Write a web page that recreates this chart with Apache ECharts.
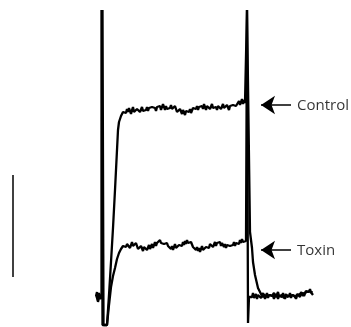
<!DOCTYPE html>
<html>
<head>
<meta charset="utf-8">
<script src="https://cdn.jsdelivr.net/npm/echarts@6/dist/echarts.min.js"></script>
<style>
html,body{margin:0;padding:0;background:#fff;}
#chart{width:351px;height:327px;}
</style>
</head>
<body>
<div id="chart"></div>
<script>
// Time (ms, stimulus onset = 0) and current (arbitrary units, baseline = 0)
const preTime = [-7,-6,-5,-4,-3,-2];
const controlPre = [0,4,-6,2,-3,-1];
const toxinPre = [1,3,-5,3,-2,0];

const controlRiseTime = [-1.5,-1.5,-0.5,-0.5,4,6,8,10,12,14,15,16,18,20,22];
const controlRise = [0,286,286,-29,-29,1,34,68,106,146,166,174,180,184,186];
const toxinRiseTime = [-0.5,-0.5,0.5,0.5,4,6,8,10,12,14,16,18,20,22];
const toxinRise = [0,286,286,-29,-29,-9,9,20,28,37,43,47,50,52];

const plateauTime = [23,24,25,26,27,28,29,30,31,32,33,34,35,36,37,38,39,40,41,42,
  43,44,45,46,47,48,49,50,51,52,53,54,55,56,57,58,59,60,61,62,
  63,64,65,66,67,68,69,70,71,72,73,74,75,76,77,78,79,80,81,82,
  83,84,85,86,87,88,89,90,91,92,93,94,95,96,97,98,99,100,101,102,
  103,104,105,106,107,108,109,110,111,112,113,114,115,116,117,118,119,120,121,122,
  123,124,125,126,127,128,129,130,131,132,133,134,135,136,137,138,139,140,141,142];
const controlPlateau = [183,187,184,188,185,182,186,189,184,186,183,187,185,188,184,186,189,185,183,187,
  186,189,185,188,190,186,189,187,191,188,185,189,191,187,190,186,188,192,189,186,
  190,187,189,185,188,191,187,189,186,190,187,184,186,183,187,185,182,186,184,181,
  185,183,186,184,187,183,185,188,186,189,187,190,186,189,191,188,190,187,192,189,
  186,190,188,191,187,189,192,188,190,187,189,186,190,188,191,187,189,192,188,190,
  187,191,189,186,190,192,188,191,189,193,190,188,192,195,191,194,197,192,196,193];
const toxinPlateau = [49,52,50,53,48,51,54,50,52,49,53,50,47,49,46,50,48,45,49,47,
  50,46,48,51,47,49,52,48,51,54,50,53,55,52,56,53,51,55,52,54,
  51,53,50,48,51,47,50,46,49,52,48,50,47,51,49,52,50,54,51,55,
  52,56,53,55,51,54,52,49,51,48,46,49,45,48,44,47,50,46,48,45,
  49,47,51,48,52,50,53,49,51,54,50,53,55,52,54,50,53,51,49,52,
  48,51,49,53,50,52,48,51,54,50,53,51,55,52,56,53,57,54,52,56];

const controlTailTime = [143,144,145,146,147,148,149,150,151,152,153,154,155,156,
  157,158,159,160,161,162,163,164,165,166,167,168,169,170,171,172,173,174,175,176,
  177,178,179,180,181,182,183,184,185,186,187,188,189,190,191,192,193,194,195,196,
  197,198,199,200,201,202,203,204,205,206,207,208,209,210];
const controlTail = [192,286,-27,-1,-2,1,-1,3,-2,0,2,-3,1,-1,
  2,-2,0,3,-1,1,-3,0,2,-2,1,3,-1,0,-3,2,-1,1,4,0,
  -2,1,-1,3,0,-3,1,2,-1,0,3,-2,1,-1,2,0,-3,1,3,-1,
  2,4,1,3,0,2,5,3,6,4,7,3,5,2];
const toxinTailTime = [143,144,145,147,149,150,152,155,158,
  159,160,161,162,163,164,165,166,167,168,169,170,171,172,173,174,175,176,177,178,
  179,180,181,182,183,184,185,186,187,188,189,190,191,192,193,194,195,196,197,198,
  199,200,201,202,203,204,205,206,207,208,209,210];
const toxinTail = [55,286,286,64,48,34,21,8,2,
  1,-1,2,-3,0,3,-2,1,-1,2,0,-2,3,1,-1,2,-3,0,2,-1,
  1,3,-2,0,2,-1,-3,1,0,2,-1,1,3,0,-2,2,1,3,-1,4,
  2,0,3,5,1,4,6,2,5,3,4,1];

// Scale bar (current units)
const scaleBarTime = -90;
const scaleBarValues = [19, 121];
// Annotations
const labelNames = ['Control', 'Toxin'];
const labelLevels = [191, 46];
const arrowFrom = 188, arrowTo = 158, labelTime = 194;

const pairs = (t, v) => t.map((x, i) => [x, v[i]]);
const controlData = pairs(preTime, controlPre).concat(pairs(controlRiseTime, controlRise),
  pairs(plateauTime, controlPlateau), pairs(controlTailTime, controlTail));
const toxinData = pairs(preTime, toxinPre).concat(pairs(toxinRiseTime, toxinRise),
  pairs(plateauTime, toxinPlateau), pairs(toxinTailTime, toxinTail));

const chart = echarts.init(document.getElementById('chart'), null, {renderer: 'canvas'});
chart.setOption({
  animation: false,
  backgroundColor: '#fff',
  grid: {left: 0, right: 0, top: 0, bottom: 0},
  xAxis: {type: 'value', min: -103, max: 248, show: false},
  yAxis: {type: 'value', min: -31, max: 296, show: false},
  series: [
    {type: 'line', data: controlData, symbol: 'none',
      lineStyle: {color: '#000', width: 2.3}},
    {type: 'line', data: toxinData, symbol: 'none',
      lineStyle: {color: '#000', width: 2.3}},
    {type: 'line', data: scaleBarValues.map(v => [scaleBarTime, v]), symbol: 'none',
      lineStyle: {color: '#000', width: 1.5}},
    {type: 'lines', coordinateSystem: 'cartesian2d',
      data: labelLevels.map(l => ({coords: [[arrowFrom, l], [arrowTo, l]]})),
      symbol: ['none', 'arrow'], symbolSize: [8, 14],
      lineStyle: {color: '#000', width: 1.5, opacity: 1}},
    {type: 'scatter', symbolSize: 0,
      data: labelNames.map((n, i) => ({name: n, value: [labelTime, labelLevels[i] - 1]})),
      label: {show: true, position: 'right', distance: 0, formatter: '{b}',
        color: '#000', fontFamily: 'Open Sans', fontSize: 15}}
  ]
});
</script>
</body>
</html>
